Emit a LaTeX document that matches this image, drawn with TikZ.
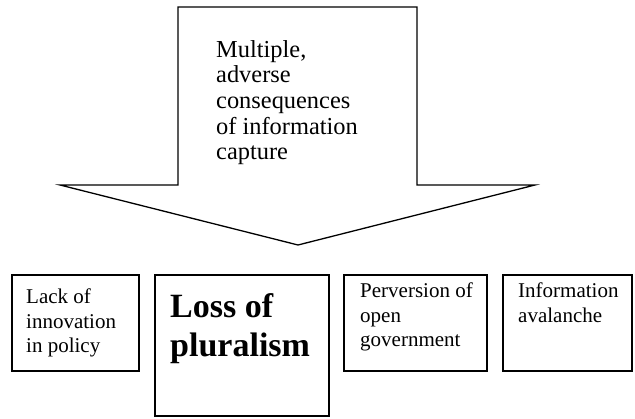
\documentclass[tikz,border=0pt]{standalone}
\usepackage{fontspec}
\setmainfont{Liberation Serif}
\begin{document}
\begin{tikzpicture}[x=1pt,y=-1pt,
  outline/.style={draw=black,line width=1.3pt,line join=miter},
  boxframe/.style={draw=black,line width=1.3pt,inner sep=0pt,outer sep=0pt},
  txt/.style={anchor=north west,inner sep=0pt,align=left,font=\fontsize{21}{24.5}\selectfont},
  bigtxt/.style={anchor=north west,inner sep=0pt,align=left,font=\fontsize{34}{39}\selectfont\bfseries},
  arrowtxt/.style={anchor=north west,inner sep=0pt,align=left,font=\fontsize{24.4}{25.7}\selectfont}]
\useasboundingbox[fill=white] (0,0) rectangle (635,419);
% big down arrow
\coordinate (a1) at (178,7);
\coordinate (a2) at (417,7);
\coordinate (a3) at (417,185);
\coordinate (a4) at (535,185);
\coordinate (tip) at (298,245);
\coordinate (a6) at (60,185);
\coordinate (a7) at (178,185);
\draw[outline] (a1) -- (a2) -- (a3) -- (a4) -- (tip) -- (a6) -- (a7) -- cycle;
\node[arrowtxt] (head) at (216,40) {Multiple,\\adverse\\consequences\\of information\\capture};
% boxes
\draw[boxframe] (12,275) rectangle (139,371) coordinate (b1);
\draw[boxframe] (155,275) rectangle (329,416) coordinate (b2);
\draw[boxframe] (344,275) rectangle (487,371) coordinate (b3);
\draw[boxframe] (503,275) rectangle (632,371) coordinate (b4);
\node[txt] (t1) at (26,289) {Lack of\\innovation\\in policy};
\node[bigtxt] (t2) at (170,293) {Loss of\\pluralism};
\node[txt] (t3) at (360,283) {Perversion of\\open\\government};
\node[txt] (t4) at (518,283) {Information\\avalanche};
\end{tikzpicture}
\end{document}
